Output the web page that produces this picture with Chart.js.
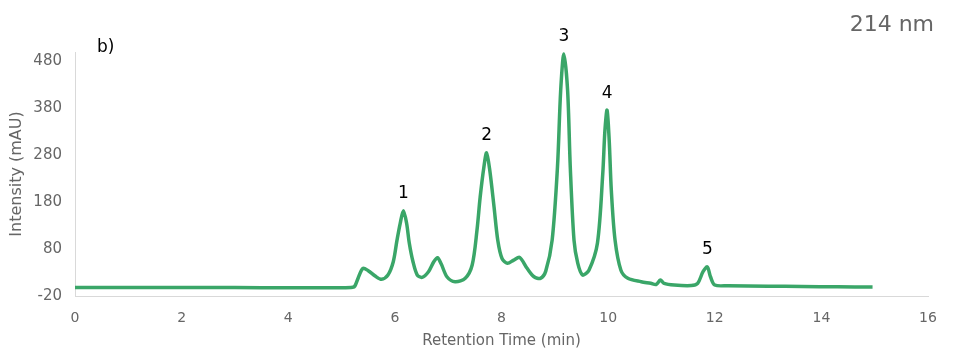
<!DOCTYPE html>
<html>
<head>
<meta charset="utf-8">
<script src="https://cdn.jsdelivr.net/npm/chart.js@4/dist/chart.umd.min.js"></script>
<style>
html,body{margin:0;padding:0;background:#fff;}
#wrap{width:960px;height:360px;position:relative;}
</style>
</head>
<body>
<div id="wrap"><canvas id="c" width="960" height="360"></canvas></div>
<script>
// Retention time (min)
const times = [0, 1, 2, 3, 4, 5, 5.21, 5.25, 5.31, 5.40, 5.50, 5.63, 5.75, 5.87, 5.97, 6.04, 6.10, 6.16, 6.22, 6.27, 6.34, 6.42, 6.51, 6.63, 6.73, 6.80, 6.87, 6.98, 7.13, 7.32, 7.45, 7.54, 7.60, 7.67, 7.72, 7.78, 7.86, 7.93, 8.01, 8.11, 8.23, 8.34, 8.48, 8.61, 8.73, 8.83, 8.95, 9.05, 9.11, 9.17, 9.24, 9.29, 9.36, 9.43, 9.52, 9.64, 9.80, 9.90, 9.94, 9.98, 10.02, 10.06, 10.13, 10.24, 10.37, 10.62, 10.80, 10.90, 10.98, 11.05, 11.24, 11.56, 11.68, 11.78, 11.86, 11.92, 12.00, 12.25, 13.0, 13.63, 14.3, 14.96];
// Intensity (mAU)
const intensity = [-2, -2, -2, -2, -2.5, -2.5, -1.5, 1.3, 18, 39, 34, 22.5, 15.5, 24.7, 53, 99, 135, 161.5, 135, 93, 53, 24.7, 19.8, 31.7, 53, 61.5, 48, 20.4, 10.4, 17.7, 46, 120, 191, 255, 285, 248, 170, 99, 60, 49.6, 56.6, 62.3, 39, 21, 17.7, 33, 99, 255, 418, 496, 418, 255, 99, 50, 24.7, 35, 93, 242, 333, 376, 312, 205, 99, 35, 17.7, 10.4, 7, 4.5, 14, 7, 3.4, 2.3, 7, 31.7, 42, 21, 3.4, 2, 1, 0.2, -0.5, -1];
// Peak labels
const peakNames = ["1", "2", "3", "4", "5"];
const peakTimes = [6.16, 7.72, 9.17, 9.98, 11.86];
const peakValues = [161.5, 285, 496, 376, 42];
// Axis ticks
const xTicks = [0, 2, 4, 6, 8, 10, 12, 14, 16];
const yTicks = [-20, 80, 180, 280, 380, 480];

const FONT = "'DejaVu Sans', Verdana, sans-serif";
const points = times.map((t, i) => ({x: t, y: intensity[i]}));

const extraText = {
  id: 'extraText',
  afterDatasetsDraw(chart) {
    const ctx = chart.ctx;
    const xs = chart.scales.x, ys = chart.scales.y;
    ctx.save();
    ctx.fillStyle = '#000';
    ctx.font = '17px ' + FONT;
    ctx.textAlign = 'center';
    ctx.textBaseline = 'middle';
    peakNames.forEach((n, i) => {
      ctx.fillText(n, xs.getPixelForValue(peakTimes[i]), ys.getPixelForValue(peakValues[i]) - 17);
    });
    ctx.textAlign = 'left';
    ctx.fillText('b)', 97, 48);
    ctx.fillStyle = '#666';
    ctx.font = '22px ' + FONT;
    ctx.textAlign = 'right';
    ctx.fillText('214 nm', 934, 25);
    ctx.restore();
  }
};

new Chart(document.getElementById('c'), {
  type: 'line',
  data: {
    datasets: [{
      data: points,
      borderColor: 'rgb(58,166,104)',
      borderWidth: 3.5,
      pointRadius: 0,
      tension: 0.3,
      fill: false
    }]
  },
  options: {
    responsive: false,
    animation: false,
    layout: {padding: {left: 0, right: 32, top: 52, bottom: 6}},
    plugins: {legend: {display: false}, tooltip: {enabled: false}},
    scales: {
      x: {
        type: 'linear',
        min: 0, max: 16,
        afterBuildTicks: s => { s.ticks = xTicks.map(v => ({value: v})); },
        afterFit: s => { s.height = 58; },
        grid: {display: false},
        border: {display: true, color: '#d9d9d9', width: 1},
        ticks: {color: '#666', font: {family: FONT, size: 14}, padding: 6, maxRotation: 0},
        title: {display: true, text: 'Retention Time (min)', color: '#666', font: {family: FONT, size: 15}, padding: {top: 2, bottom: 4}}
      },
      y: {
        min: -20, max: 500,
        afterBuildTicks: s => { s.ticks = yTicks.map(v => ({value: v})); },
        afterFit: s => { s.width = 75; },
        grid: {display: false},
        border: {display: true, color: '#d9d9d9', width: 1},
        ticks: {color: '#666', font: {family: FONT, size: 15}, padding: 5},
        title: {display: true, text: 'Intensity (mAU)', color: '#666', font: {family: FONT, size: 16}, padding: {top: 7}}
      }
    }
  },
  plugins: [extraText]
});
</script>
</body>
</html>
